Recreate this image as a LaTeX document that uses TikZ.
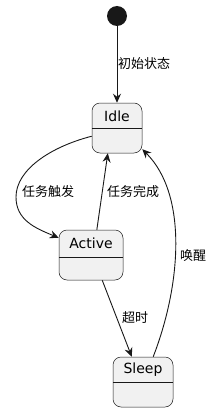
\documentclass[tikz,border=0pt]{standalone}
\usepackage{fontspec}
\setmainfont{DejaVu Sans}
\newfontfamily\cjk{Noto Sans CJK SC}
\usetikzlibrary{arrows.meta}
\definecolor{ink}{HTML}{181818}
\definecolor{statefill}{HTML}{F1F1F1}
\tikzset{
  x=1pt, y=1pt,
  statebox/.style={draw=ink, line width=0.5pt, fill=statefill, rounded corners=8pt,
    minimum height=50pt, inner sep=0pt},
  statename/.style={font=\fontsize{14}{16}\selectfont, text=black, inner sep=0pt},
  tr/.style={draw=ink, line width=0.9pt, -{Stealth[length=9pt,width=8pt,inset=3pt]}},
  lbl/.style={font=\cjk\fontsize{13}{15}\selectfont, text=black, anchor=west, inner sep=0pt},
}
\begin{document}
\begin{tikzpicture}
\useasboundingbox (0,0) rectangle (212,-412);
% initial
\node[circle, fill=ink, minimum size=20pt, inner sep=0pt] (init) at (117,-16) {};
% states
\node[statebox, minimum width=50pt] (idle) at (117,-128) {};
\draw[ink, line width=0.5pt] (idle.west) -- (idle.east);
\node[statename] (idlet) at (117,-116) {Idle};
\node[statebox, minimum width=64pt] (active) at (91,-255) {};
\draw[ink, line width=0.5pt] ([yshift=-2pt]active.west) -- ([yshift=-2pt]active.east);
\node[statename] (activet) at (91,-243) {Active};
\node[statebox, minimum width=60pt] (sleep) at (143,-382) {};
\draw[ink, line width=0.5pt] (sleep.west) -- (sleep.east);
\node[statename] (sleept) at (143,-370) {Sleep};
% transitions
\draw[tr] (init.south) -- (idle.north);
\node[lbl] (l1) at (118,-64) {初始状态};
\draw[tr] (idle.198) .. controls (50,-147) and (16,-170) .. (16,-197)
  .. controls (16,-220) and (35,-228) .. (active.152);
\node[lbl] (l2) at (22,-192) {任务触发};
\draw[tr] (active.77) -- (idle.250);
\node[lbl] (l3) at (107,-192) {任务完成};
\draw[tr] (active.294) -- (sleep.114);
\node[lbl] (l4) at (122,-318) {超时};
\draw[tr] (sleep.68) .. controls (181,-285) and (188,-195) .. (idle.320);
\node[lbl] (l5) at (180,-256) {唤醒};
\end{tikzpicture}
\end{document}
